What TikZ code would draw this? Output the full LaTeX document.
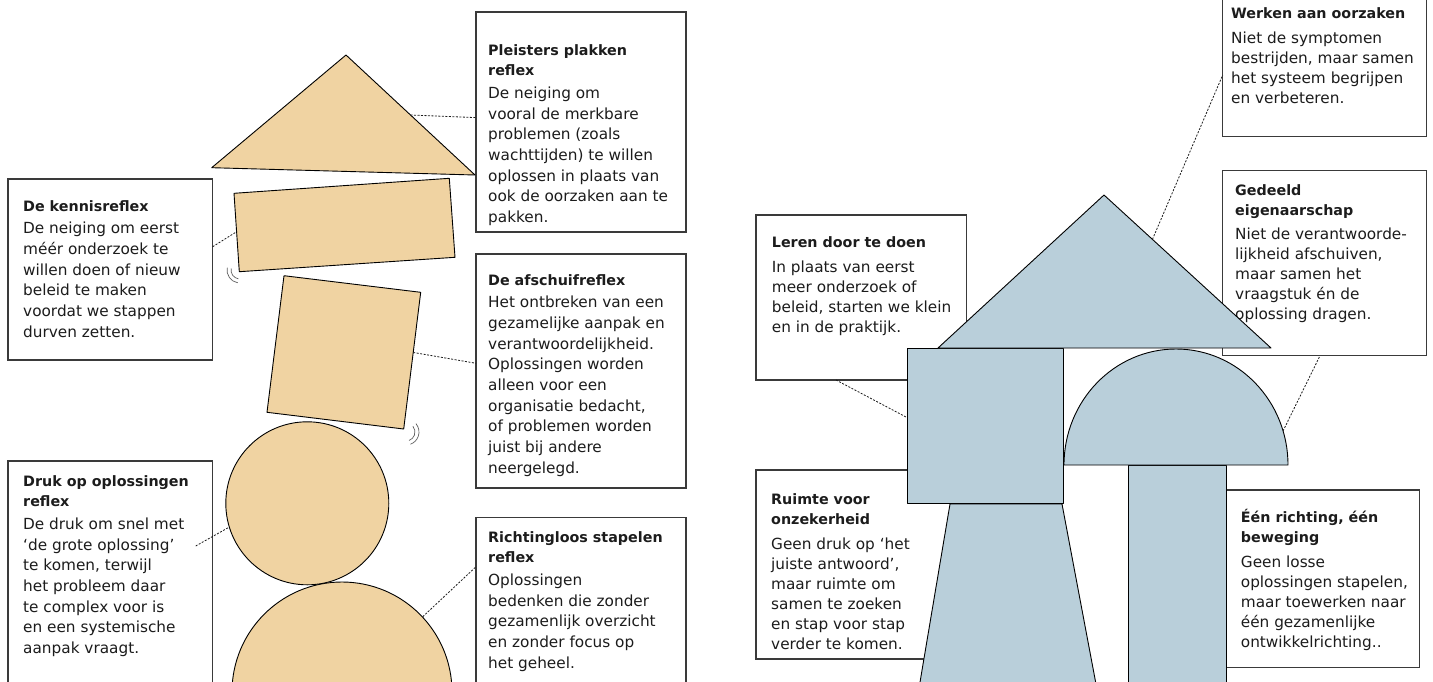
\documentclass[tikz,border=0pt]{standalone}
\usepackage{fontspec}
\setmainfont{DejaVu Sans}
\usetikzlibrary{calc}
\definecolor{sand}{HTML}{F0D3A2}
\definecolor{mist}{HTML}{B9CFDA}
\definecolor{ink}{HTML}{1C1C1C}
\definecolor{boxline}{HTML}{3A3A3A}
\newcommand{\ttl}[1]{{\bfseries\fontsize{14.3}{20.5}\selectfont #1}}

\begin{document}
\begin{tikzpicture}[x=1pt, y=-1pt,
  box/.style={rectangle, draw=boxline, line width=1.2pt, fill=white, anchor=north west, inner sep=0pt, outer sep=0pt},
  txt/.style={anchor=north west, align=left, inner sep=0pt, text=ink, font=\fontsize{15.3}{20.7}\selectfont},
  txtr/.style={txt, font=\fontsize{15.3}{20}\selectfont},
  warm/.style={draw=black, line width=0.9pt, fill=sand, line join=round},
  cool/.style={draw=black, line width=0.9pt, fill=mist, line join=round},
  link/.style={draw=ink, line width=0.8pt, dash pattern=on 2pt off 1.5pt},
  wiggle/.style={draw=ink!70, line width=0.7pt}]
  \useasboundingbox (0,0) rectangle (1433,681);
  \fill[white] (0,0) rectangle (1433,681);
  \clip (0,0) rectangle (1433,681);

  \node[box, minimum width=210pt, minimum height=220pt] (pleisters) at (476,12) {};
  \node[box, minimum width=204.7pt, minimum height=181pt] (kennis) at (8,179) {};
  \node[box, minimum width=210pt, minimum height=234pt] (afschuif) at (476,254) {};
  \node[box, minimum width=204.7pt, minimum height=240pt] (druk) at (8,461) {};
  \node[box, minimum width=210pt, minimum height=200pt] (richting) at (476,517.7) {};
  \node[box, minimum width=204pt, minimum height=146.7pt] (werken) at (1222.7,-10) {};
  \node[box, minimum width=204pt, minimum height=185pt] (gedeeld) at (1222.7,170.7) {};
  \node[box, minimum width=210.7pt, minimum height=165pt] (leren) at (756,215) {};
  \node[box, minimum width=210pt, minimum height=189pt] (ruimte) at (756,470) {};
  \node[box, minimum width=192.6pt, minimum height=177.3pt] (een) at (1226.7,490) {};

  \node[txt] (pleisterstxt) at (488,44) {\ttl{Pleisters plakken}\\ \ttl{reflex}\\[2pt]
    De neiging om\\ vooral de merkbare\\ problemen (zoals\\ wachttijden) te willen\\
    oplossen in plaats van\\ ook de oorzaken aan te\\ pakken.};
  \node[txt] (kennistxt) at (23,200) {\ttl{De kennisreflex}\\[2pt]
    De neiging om eerst\\ méér onderzoek te\\ willen doen of nieuw\\ beleid te maken\\
    voordat we stappen\\ durven zetten.};
  \node[txt] (afschuiftxt) at (488,274) {\ttl{De afschuifreflex}\\[2pt]
    Het ontbreken van een\\ gezamelijke aanpak en\\ verantwoordelijkheid.\\ Oplossingen worden\\
    alleen voor een\\ organisatie bedacht,\\ of problemen worden\\ juist bij andere\\ neergelegd.};
  \node[txt] (druktxt) at (23,475) {\ttl{Druk op oplossingen}\\ \ttl{reflex}\\[2pt]
    De druk om snel met\\ ‘de grote oplossing’\\ te komen, terwijl\\ het probleem daar\\
    te complex voor is\\ en een systemische\\ aanpak vraagt.};
  \node[txt] (richtingtxt) at (488,531) {\ttl{Richtingloos stapelen}\\ \ttl{reflex}\\[2pt]
    Oplossingen\\ bedenken die zonder\\ gezamenlijk overzicht\\ en zonder focus op\\ het geheel.};
  \node[txtr] (werkentxt) at (1231,7) {\ttl{Werken aan oorzaken}\\[5.5pt]
    Niet de symptomen\\ bestrijden, maar samen\\ het systeem begrijpen\\ en verbeteren.};
  \node[txtr] (gedeeldtxt) at (1235,184) {\ttl{Gedeeld}\\ \ttl{eigenaarschap}\\[4pt]
    Niet de verantwoorde-\\ lijkheid afschuiven,\\ maar samen het\\ vraagstuk én de\\ oplossing dragen.};
  \node[txtr] (lerentxt) at (771.7,236) {\ttl{Leren door te doen}\\[5.5pt]
    In plaats van eerst\\ meer onderzoek of\\ beleid, starten we klein\\ en in de praktijk.};
  \node[txtr] (ruimtetxt) at (771,493) {\ttl{Ruimte voor}\\ \ttl{onzekerheid}\\[5.5pt]
    Geen druk op ‘het\\ juiste antwoord’,\\ maar ruimte om\\ samen te zoeken\\ en stap voor stap\\ verder te komen.};
  \node[txtr] (eentxt) at (1240.7,509) {\ttl{Één richting, één}\\ \ttl{beweging}\\[5.5pt]
    Geen losse\\ oplossingen stapelen,\\ maar toewerken naar\\ één gezamenlijke\\ ontwikkelrichting..};

  \coordinate (roofA) at (346,55);
  \coordinate (roofL) at (211.7,167.7);
  \coordinate (roofR) at (475,175);
  \coordinate (plankA) at (234,193.3);
  \coordinate (plankB) at (449.3,178.3);
  \coordinate (plankC) at (455,257.3);
  \coordinate (plankD) at (239.3,271.7);
  \coordinate (cubeA) at (284,275.7);
  \coordinate (cubeB) at (420.7,292.3);
  \coordinate (cubeC) at (403.7,429);
  \coordinate (cubeD) at (267,412.3);
  \draw[warm] (roofA) -- (roofR) -- (roofL) -- cycle;
  \draw[warm] (plankA) -- (plankB) -- (plankC) -- (plankD) -- cycle;
  \draw[warm] (cubeA) -- (cubeB) -- (cubeC) -- (cubeD) -- cycle;
  \node[warm, circle, inner sep=0pt, minimum size=220pt] (ball2) at (342,692) {};
  \node[warm, circle, inner sep=0pt, minimum size=163pt] (ball1) at (307.3,503.3) {};

  \coordinate (topA) at (1104,195);
  \coordinate (topL) at (938,348);
  \coordinate (topR) at (1271,348);
  \draw[cool] (950,504) -- (1062,504) -- (1099,700) -- (917,700) -- cycle;
  \draw[cool] (1128,465) rectangle (1226,700);
  \node[cool, rectangle, anchor=north west, inner sep=0pt, minimum width=156.3pt, minimum height=155pt] (block) at (906.7,348) {};
  \draw[cool] (1064,465) arc[start angle=180, end angle=360, x radius=112, y radius=116] -- cycle;
  \draw[cool] (topA) -- (topR) -- (topL) -- cycle;
  \coordinate (domepin) at (1283,431);
  \coordinate (drukpin) at ($(druk.north east)+(-17,85)$);

  \draw[link] ($(roofA)!0.5!(roofR)$) -- ($(pleisters.north west)!0.48!(pleisters.south west)$);
  \draw[link] ($(kennis.north east)!0.374!(kennis.south east)$) -- ($(plankA)!0.49!(plankD)$);
  \draw[link] ($(cubeB)!0.44!(cubeC)$) -- ($(afschuif.north west)!0.467!(afschuif.south west)$);
  \draw[link] (drukpin) -- (ball1.197);
  \draw[link] (ball2.43) -- ($(richting.north west)+(0,49)$);
  \draw[link] ($(topA)!0.29!(topR)$) -- ($(werken.north west)+(0,85)$);
  \draw[link] (domepin) -- ($(gedeeld.south west)+(97.3,0)$);
  \draw[link] ($(leren.south west)+(80,0)$) -- ($(block.north west)!0.445!(block.south west)$);

  \draw[wiggle] (240,270) ++(190:9) arc[start angle=190, end angle=100, radius=9];
  \draw[wiggle] (240,270) ++(190:13) arc[start angle=190, end angle=100, radius=13];
  \draw[wiggle] (406,432) ++(-40:9) arc[start angle=-40, end angle=70, radius=9];
  \draw[wiggle] (406,432) ++(-40:13) arc[start angle=-40, end angle=70, radius=13];
\end{tikzpicture}
\end{document}
